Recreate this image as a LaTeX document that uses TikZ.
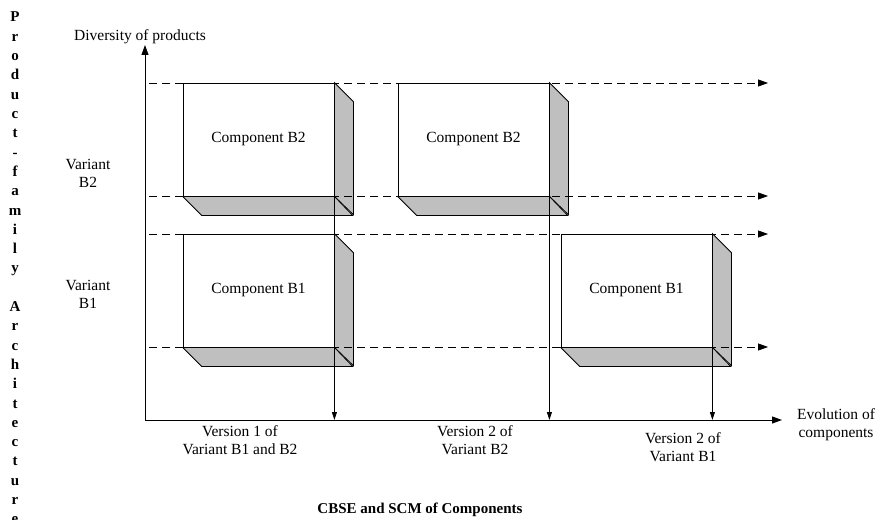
\documentclass[tikz,border=0pt]{standalone}
\usepackage{fontspec}
\setmainfont{Liberation Serif}
\usetikzlibrary{arrows.meta}
\begin{document}
\begin{tikzpicture}[x=1pt,y=-1pt,
  lbl/.style={font=\fontsize{15.5}{18}\selectfont, align=center, inner sep=0pt},
  front/.style={draw, fill=white, line width=0.8pt, minimum width=151pt,
    minimum height=113pt, inner sep=0pt, font=\fontsize{15.5}{18}\selectfont},
  face/.style={draw, fill=black!25, line width=0.8pt, line join=miter},
  axis/.style={line width=1pt, -{Triangle[length=10pt,width=7pt]}},
  guide/.style={line width=0.8pt, dash pattern=on 8pt off 5pt,
    -{Triangle[length=10pt,width=7pt]}},
  drop/.style={line width=0.8pt, -{Triangle[length=8pt,width=5pt]}},
  spine/.style={font=\fontsize{15}{18}\selectfont\bfseries, inner sep=0pt, anchor=base},
  title/.style={font=\fontsize{15}{18}\selectfont\bfseries, inner sep=0pt}
]
\useasboundingbox (0,0) rectangle (880,519);

% axes
\coordinate (O) at (145,420);
\coordinate (ytip) at (145,45);
\coordinate (xtip) at (782,420);
\draw[axis] (O) -- (ytip);
\draw[axis] (O) -- (xtip);
\node[lbl] (ylab) at (140,37) {Diversity of products};
\node[lbl] (xlab) at (836,425) {Evolution of\\components};

% component boxes (front faces)
\node[front] (b1) at (258.5,139.5) {Component B2};
\node[front] (b2) at (473.5,139.5) {Component B2};
\node[front] (b3) at (258.5,290.5) {Component B1};
\node[front] (b4) at (636.5,290.5) {Component B1};

% shaded side and bottom faces
\foreach \n in {b1,b2,b3,b4}{
  \draw[face] (\n.north east) -- ++(19,19) -- ++(0,113) -- (\n.south east) -- cycle;
  \draw[face] (\n.south west) -- ++(19,19) -- ++(151,0) -- (\n.south east) -- cycle;
}

% dashed guide lines of the variants
\foreach \y/\k in {83/1,196/2,234/3,347/4}{
  \coordinate (gs\k) at (149,\y);
  \coordinate (ge\k) at (768,\y);
  \draw[guide] (gs\k) -- (ge\k);
}

% versions dropped onto the time axis
\draw[drop] (b1.south east) -- (b1.south east |- O);
\draw[drop] (b2.south east) -- (b2.south east |- O);
\draw[drop] (b4.south east) -- (b4.south east |- O);

% labels
\node[lbl] (vb2) at (88,173) {Variant\\B2};
\node[lbl] (vb1) at (88,294) {Variant\\B1};
\node[lbl] (ver1) at (240,440) {Version 1 of\\Variant B1 and B2};
\node[lbl] (ver2) at (475,440) {Version 2 of\\Variant B2};
\node[lbl] (ver3) at (683,447) {Version 2 of\\Variant B1};
\node[title] (cap) at (420,510) {CBSE and SCM of Components};

% vertical spine text
\foreach \ch [count=\i from 0] in {P,r,o,d,u,c,t,-,f,a,m,i,l,y}
  \node[spine] (sp\i) at (15,22+19.3*\i) {\ch};
\foreach \ch [count=\i from 15] in {A,r,c,h,i,t,e,c,t,u,r,e}
  \node[spine] (sa\i) at (15,22+19.3*\i) {\ch};
\end{tikzpicture}
\end{document}
